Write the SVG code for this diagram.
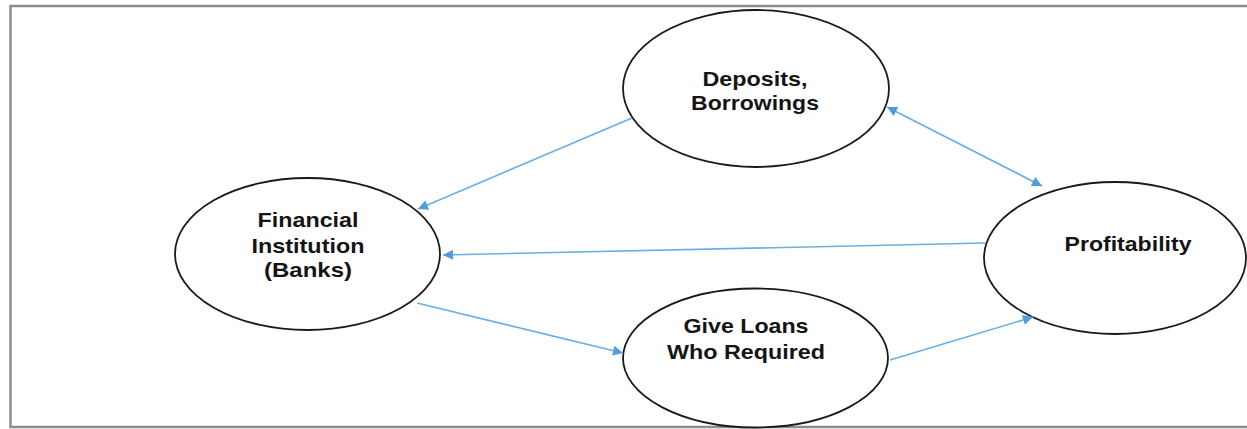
<svg xmlns="http://www.w3.org/2000/svg" width="1247" height="429" viewBox="0 0 1247 429">
  <style>
    .node ellipse { fill: #ffffff; stroke: #1a1a1a; stroke-width: 1.8; }
    .node text { font-family: "Liberation Sans", Arial, sans-serif; font-weight: bold; font-size: 21px; fill: #141414; text-anchor: middle; }
    .conn line { stroke: #6aaee6; stroke-width: 1.6; fill: none; }
  </style>
  <defs>
    <marker id="arr" viewBox="0 0 10 10" refX="10" refY="5" markerWidth="13" markerHeight="10" markerUnits="userSpaceOnUse" orient="auto-start-reverse">
      <path d="M0,0 L10,5 L0,10 Z" fill="#4f9de0"/>
    </marker>
  </defs>
  <rect x="0" y="0" width="1247" height="429" fill="#ffffff"/>
  <rect id="frame" x="10.5" y="6" width="1242" height="421" fill="none" stroke="#8c8c8c" stroke-width="2.5"/>

  <g id="deposits" class="node">
    <ellipse cx="756" cy="88.5" rx="133" ry="78.5"/>
    <text x="755" y="86" textLength="105" lengthAdjust="spacingAndGlyphs">Deposits,</text>
    <text x="755" y="110" textLength="128" lengthAdjust="spacingAndGlyphs">Borrowings</text>
  </g>
  <g id="financial" class="node">
    <ellipse cx="307.5" cy="254" rx="132.5" ry="76"/>
    <text x="308" y="227" textLength="101" lengthAdjust="spacingAndGlyphs">Financial</text>
    <text x="308" y="253" textLength="113" lengthAdjust="spacingAndGlyphs">Institution</text>
    <text x="308" y="277" textLength="88" lengthAdjust="spacingAndGlyphs">(Banks)</text>
  </g>
  <g id="profitability" class="node">
    <ellipse cx="1115" cy="258" rx="131" ry="76"/>
    <text x="1128" y="251" textLength="127" lengthAdjust="spacingAndGlyphs">Profitability</text>
  </g>
  <g id="loans" class="node">
    <ellipse cx="755.5" cy="358" rx="132.5" ry="69.5"/>
    <text x="746" y="333" textLength="125" lengthAdjust="spacingAndGlyphs">Give Loans</text>
    <text x="746" y="359" textLength="158" lengthAdjust="spacingAndGlyphs">Who Required</text>
  </g>

  <g id="connectors" class="conn">
    <line x1="632" y1="118" x2="418" y2="209" marker-end="url(#arr)"/>
    <line x1="887" y1="107" x2="1042" y2="186" marker-start="url(#arr)" marker-end="url(#arr)"/>
    <line x1="985" y1="243" x2="443" y2="255" marker-end="url(#arr)"/>
    <line x1="417" y1="303" x2="623" y2="353" marker-end="url(#arr)"/>
    <line x1="890" y1="360" x2="1033" y2="317" marker-end="url(#arr)"/>
  </g>
</svg>
